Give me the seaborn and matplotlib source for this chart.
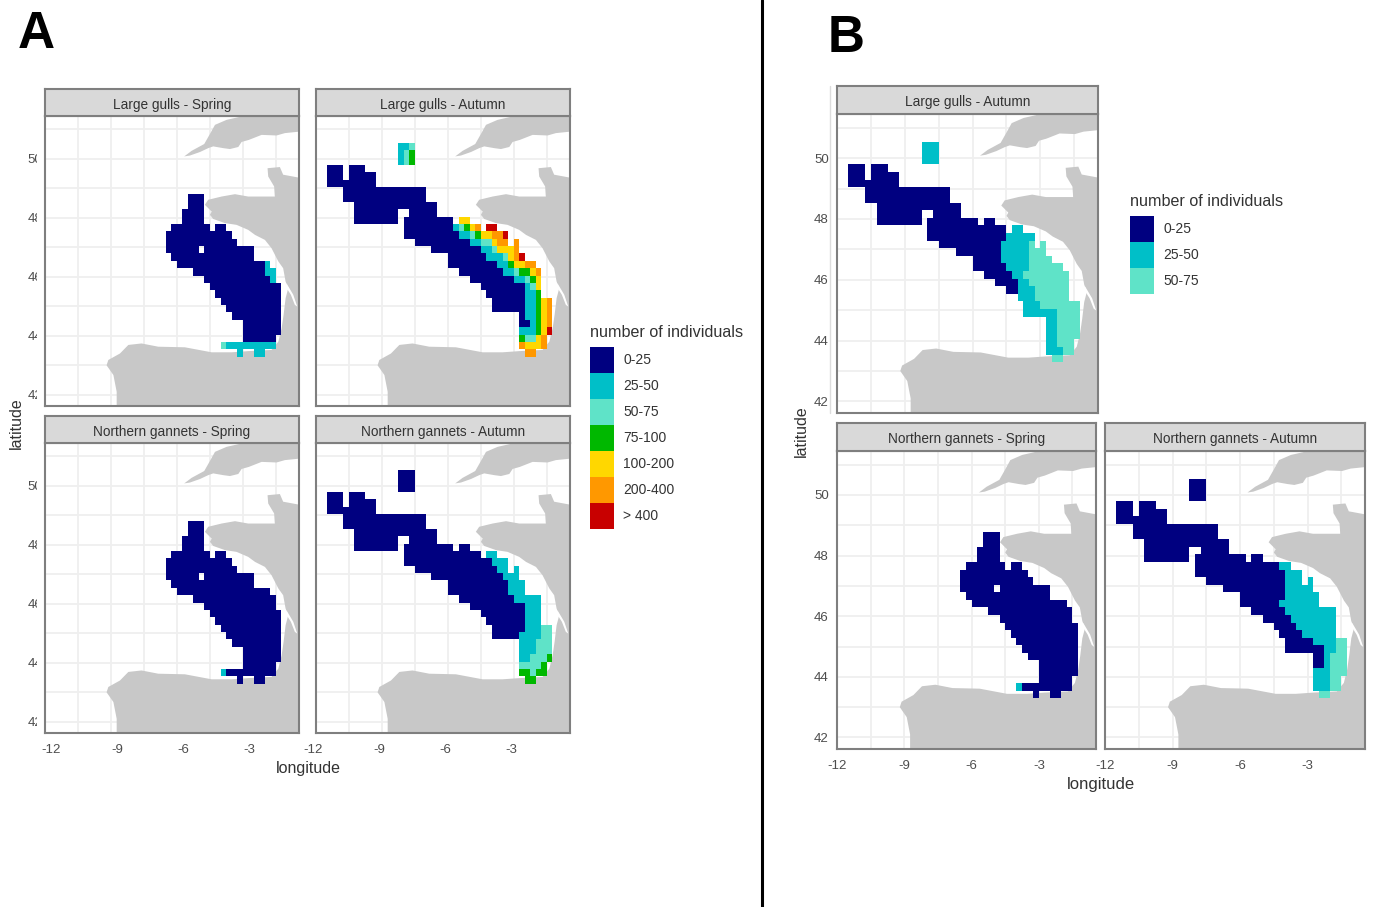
import numpy as np
import pandas as pd
import seaborn as sns
import matplotlib.pyplot as plt
from matplotlib.colors import ListedColormap
from matplotlib.patches import Patch, Polygon
from matplotlib.transforms import Bbox, ScaledTranslation

W, H = 1375, 907

# Classes used in the legend (1 = first label, 7 = last)
class_labels = ['0-25', '25-50', '50-75', '75-100', '100-200', '200-400', '> 400']
class_colors = ['#000080', '#00BFC8', '#5FE3C8', '#00B800', '#FFD700', '#FF9800', '#C80000']

# Survey cells: latitude row -> runs of (first column, last column, class)
# column 0 starts at 12 W, every column is 0.25 degree
gulls_spring_a = {
    48.5: [(26, 28, 1)], 48.25: [(26, 28, 1)], 48.0: [(25, 28, 1)], 47.75: [(25, 28, 1)],
    47.5: [(23, 29, 1), (31, 32, 1)], 47.25: [(22, 33, 1)], 47.0: [(22, 34, 1)],
    46.75: [(22, 27, 1), (29, 37, 1)], 46.5: [(23, 37, 1)],
    46.25: [(24, 39, 1), (40, 40, 2)], 46.0: [(27, 39, 1), (40, 41, 2)],
    45.75: [(29, 40, 1), (41, 41, 2)], 45.5: [(30, 42, 1)], 45.25: [(31, 42, 1)],
    45.0: [(32, 42, 1)], 44.75: [(33, 42, 1)], 44.5: [(34, 42, 1)], 44.25: [(36, 42, 1)],
    44.0: [(36, 42, 1)], 43.75: [(36, 41, 1)], 43.5: [(32, 32, 3), (33, 41, 2)],
    43.25: [(35, 35, 2), (38, 39, 2)],
}
gulls_autumn_a = {
    50.25: [(15, 16, 2), (17, 17, 3)], 50.0: [(15, 15, 2), (16, 16, 3), (17, 17, 4)],
    49.75: [(15, 15, 2), (16, 16, 3), (17, 17, 4)],
    49.5: [(2, 4, 1), (6, 8, 1)], 49.25: [(2, 4, 1), (6, 10, 1)], 49.0: [(2, 10, 1)],
    48.75: [(5, 19, 1)], 48.5: [(5, 19, 1)], 48.25: [(7, 21, 1)],
    48.0: [(7, 14, 1), (17, 21, 1)],
    47.75: [(7, 14, 1), (16, 24, 1), (26, 27, 5)],
    47.5: [(16, 24, 1), (25, 25, 2), (26, 26, 3), (27, 27, 4), (28, 28, 5), (29, 29, 6), (31, 32, 7)],
    47.25: [(16, 25, 1), (26, 27, 2), (28, 28, 3), (29, 29, 4), (30, 31, 5), (32, 33, 6), (34, 34, 7)],
    47.0: [(18, 27, 1), (28, 29, 2), (30, 31, 3), (32, 32, 5), (33, 34, 6), (36, 36, 6)],
    46.75: [(21, 29, 1), (30, 31, 2), (32, 32, 3), (33, 35, 5), (36, 36, 6)],
    46.5: [(24, 30, 1), (31, 33, 2), (34, 34, 3), (35, 35, 5), (36, 36, 6), (37, 37, 7)],
    46.25: [(24, 32, 1), (33, 34, 2), (35, 35, 4), (36, 37, 5), (38, 39, 6)],
    46.0: [(26, 33, 1), (34, 35, 2), (36, 36, 3), (37, 38, 4), (39, 39, 5), (40, 40, 6)],
    45.75: [(28, 35, 1), (36, 37, 2), (38, 38, 3), (39, 39, 4), (40, 40, 5)],
    45.5: [(30, 37, 1), (38, 38, 2), (39, 39, 3), (40, 40, 5)],
    45.25: [(31, 37, 1), (38, 39, 2), (40, 40, 4)],
    45.0: [(32, 37, 1), (38, 39, 2), (40, 40, 4), (41, 41, 5), (42, 42, 6)],
    44.75: [(32, 37, 1), (38, 39, 2), (40, 40, 4), (41, 41, 5), (42, 42, 6)],
    44.5: [(37, 37, 1), (38, 39, 2), (40, 40, 4), (41, 41, 5), (42, 42, 6)],
    44.25: [(37, 38, 1), (39, 39, 2), (40, 40, 4), (41, 41, 5), (42, 42, 6)],
    44.0: [(37, 39, 2), (40, 40, 4), (41, 41, 5), (42, 42, 7)],
    43.75: [(37, 37, 4), (38, 39, 3), (40, 40, 5), (41, 41, 6)],
    43.5: [(37, 37, 6), (38, 40, 5), (41, 41, 6)],
    43.25: [(38, 39, 6)],
}
gannets_spring = {
    48.5: [(26, 28, 1)], 48.25: [(26, 28, 1)], 48.0: [(25, 28, 1)], 47.75: [(25, 28, 1)],
    47.5: [(23, 29, 1), (31, 32, 1)], 47.25: [(22, 33, 1)], 47.0: [(22, 34, 1)],
    46.75: [(22, 27, 1), (29, 37, 1)], 46.5: [(23, 37, 1)], 46.25: [(24, 40, 1)],
    46.0: [(27, 41, 1)], 45.75: [(29, 41, 1)], 45.5: [(30, 42, 1)], 45.25: [(31, 42, 1)],
    45.0: [(32, 42, 1)], 44.75: [(33, 42, 1)], 44.5: [(34, 42, 1)], 44.25: [(36, 42, 1)],
    44.0: [(36, 42, 1)], 43.75: [(36, 41, 1)], 43.5: [(32, 32, 2), (33, 41, 1)],
    43.25: [(35, 35, 1), (38, 39, 1)],
}
gannets_autumn_a = {
    50.25: [(15, 17, 1)], 50.0: [(15, 17, 1)], 49.75: [(15, 17, 1)],
    49.5: [(2, 4, 1), (6, 8, 1)], 49.25: [(2, 4, 1), (6, 10, 1)], 49.0: [(2, 10, 1)],
    48.75: [(5, 19, 1)], 48.5: [(5, 19, 1)], 48.25: [(7, 21, 1)],
    48.0: [(7, 14, 1), (17, 21, 1)], 47.75: [(7, 14, 1), (16, 24, 1), (26, 27, 1)],
    47.5: [(16, 29, 1), (31, 32, 2)], 47.25: [(16, 31, 1), (32, 34, 2)],
    47.0: [(18, 32, 1), (33, 34, 2), (36, 36, 2)], 46.75: [(21, 33, 1), (34, 36, 2)],
    46.5: [(24, 34, 1), (35, 37, 2)], 46.25: [(24, 34, 1), (35, 37, 2)],
    46.0: [(26, 35, 1), (36, 40, 2)], 45.75: [(28, 37, 1), (38, 40, 2)],
    45.5: [(30, 37, 1), (38, 40, 2)], 45.25: [(31, 37, 1), (38, 40, 2)],
    45.0: [(32, 37, 1), (38, 40, 2), (41, 42, 3)], 44.75: [(32, 36, 1), (37, 40, 2), (41, 42, 3)],
    44.5: [(37, 39, 2), (40, 42, 3)], 44.25: [(37, 39, 2), (40, 42, 3)],
    44.0: [(37, 38, 2), (39, 41, 3), (42, 42, 4)], 43.75: [(37, 40, 3), (41, 41, 4)],
    43.5: [(37, 38, 4), (39, 39, 3), (40, 41, 4)], 43.25: [(38, 39, 4)],
}
gulls_autumn_b = {
    50.25: [(15, 17, 2)], 50.0: [(15, 17, 2)], 49.75: [(15, 17, 2)],
    49.5: [(2, 4, 1), (6, 8, 1)], 49.25: [(2, 4, 1), (6, 10, 1)], 49.0: [(2, 10, 1)],
    48.75: [(5, 19, 1)], 48.5: [(5, 19, 1)], 48.25: [(7, 21, 1)],
    48.0: [(7, 14, 1), (17, 21, 1)], 47.75: [(7, 14, 1), (16, 24, 1), (26, 27, 1)],
    47.5: [(16, 29, 1), (31, 32, 2)], 47.25: [(16, 29, 1), (30, 34, 2)],
    47.0: [(18, 28, 1), (29, 33, 2), (34, 34, 3), (36, 36, 3)],
    46.75: [(21, 28, 1), (29, 33, 2), (34, 36, 3)],
    46.5: [(24, 28, 1), (29, 33, 2), (34, 37, 3)],
    46.25: [(24, 29, 1), (30, 33, 2), (34, 39, 3)],
    46.0: [(26, 30, 1), (31, 32, 2), (33, 40, 3)],
    45.75: [(28, 31, 1), (32, 33, 2), (34, 40, 3)],
    45.5: [(30, 31, 1), (32, 34, 2), (35, 40, 3)],
    45.25: [(32, 34, 2), (35, 40, 3)], 45.0: [(33, 35, 2), (36, 42, 3)],
    44.75: [(33, 38, 2), (39, 42, 3)], 44.5: [(37, 38, 2), (39, 42, 3)],
    44.25: [(37, 38, 2), (39, 42, 3)], 44.0: [(37, 38, 2), (39, 42, 3)],
    43.75: [(37, 38, 2), (39, 41, 3)], 43.5: [(37, 39, 2), (40, 41, 3)],
    43.25: [(38, 39, 3)],
}
gannets_autumn_b = {
    50.25: [(15, 17, 1)], 50.0: [(15, 17, 1)], 49.75: [(15, 17, 1)],
    49.5: [(2, 4, 1), (6, 8, 1)], 49.25: [(2, 4, 1), (6, 10, 1)], 49.0: [(2, 10, 1)],
    48.75: [(5, 19, 1)], 48.5: [(5, 19, 1)], 48.25: [(7, 21, 1)],
    48.0: [(7, 14, 1), (17, 21, 1)], 47.75: [(7, 14, 1), (16, 24, 1), (26, 27, 1)],
    47.5: [(16, 30, 1), (31, 32, 2)], 47.25: [(16, 31, 1), (32, 34, 2)],
    47.0: [(18, 31, 1), (32, 34, 2), (36, 36, 2)], 46.75: [(21, 31, 1), (32, 36, 2)],
    46.5: [(24, 31, 1), (32, 37, 2)], 46.25: [(24, 30, 1), (31, 37, 2)],
    46.0: [(26, 31, 1), (32, 40, 2)], 45.75: [(28, 32, 1), (33, 40, 2)],
    45.5: [(30, 33, 1), (34, 40, 2)], 45.25: [(31, 34, 1), (35, 40, 2)],
    45.0: [(32, 36, 1), (37, 40, 2), (41, 42, 3)], 44.75: [(32, 38, 1), (39, 40, 2), (41, 42, 3)],
    44.5: [(37, 38, 1), (39, 39, 2), (40, 42, 3)], 44.25: [(37, 38, 1), (39, 39, 2), (40, 42, 3)],
    44.0: [(37, 39, 2), (40, 42, 3)], 43.75: [(37, 39, 2), (40, 41, 3)],
    43.5: [(37, 39, 2), (40, 41, 3)], 43.25: [(38, 39, 3)],
}

# Coastlines (longitude, latitude)
england = [(-5.67, 50.08), (-5.33, 50.27), (-4.76, 50.5), (-4.5, 50.84), (-4.27, 51.15),
           (-3.74, 51.32), (-2.91, 51.46), (-2.8, 51.7), (-0.3, 51.7), (-0.3, 50.93),
           (-1.09, 50.87), (-1.47, 50.79), (-2.15, 50.81), (-2.73, 50.64), (-3.06, 50.57),
           (-3.21, 50.4), (-3.59, 50.33), (-3.89, 50.36), (-4.35, 50.42), (-4.58, 50.36),
           (-4.95, 50.23), (-5.41, 50.11)]
france_spain = [(-1.88, 49.68), (-1.32, 49.72), (-1.17, 49.46), (-0.3, 49.34), (-0.3, 41.3),
                (-8.74, 41.3), (-8.74, 42.1), (-8.89, 42.67), (-9.2, 43.0), (-9.12, 43.18),
                (-8.59, 43.4), (-8.21, 43.69), (-7.61, 43.74), (-6.85, 43.63), (-5.64, 43.61),
                (-4.42, 43.44), (-3.52, 43.44), (-2.76, 43.48), (-1.7, 43.52), (-1.39, 43.8),
                (-1.24, 44.25), (-1.15, 44.71), (-1.06, 45.27), (-0.94, 45.61), (-1.06, 45.84),
                (-1.17, 46.29), (-1.39, 46.52), (-1.7, 46.97), (-2.0, 47.25), (-2.45, 47.42),
                (-2.76, 47.59), (-3.29, 47.76), (-3.82, 47.82), (-4.35, 47.96), (-4.5, 48.1),
                (-4.42, 48.21), (-4.73, 48.44), (-4.58, 48.61), (-3.97, 48.72), (-3.36, 48.8),
                (-2.76, 48.72), (-2.15, 48.72), (-1.55, 48.72), (-1.58, 49.06), (-1.85, 49.4)]
gironde = [(-1.02, 45.78), (-0.71, 45.39), (-0.53, 44.99), (-0.64, 45.05), (-0.82, 45.39), (-1.06, 45.67)]

lon_ticks = [-12, -9, -6, -3]
lat_ticks = [42, 44, 46, 48, 50]

lon_edges = np.arange(-12, -0.2, 0.25)
lat_edges = np.arange(43.29, 50.6, 0.25)

sns.set_theme(style='white')
plt.rcParams['font.family'] = ['Liberation Sans', 'DejaVu Sans']
cmap = ListedColormap(class_colors)
fig = plt.figure(figsize=(W / 100, H / 100), dpi=100)


def box(x0, y0, x1, y1):
    return [x0 / W, 1 - y1 / H, (x1 - x0) / W, (y1 - y0) / H]


def cells(rows):
    out = []
    for lat, runs in rows.items():
        for first, last, cls in runs:
            for col in range(first, last + 1):
                out.append((-12 + 0.25 * col + 0.125, lat + 0.04 + 0.125, cls))
    return pd.DataFrame(out, columns=['lon', 'lat', 'cls'])


def panel(rows, title, x0, y0, x1, y1, strip_top, xticks=True, yticks=None, label_dx=0):
    ax = fig.add_axes(box(x0, y0, x1, y1))
    ax.add_patch(Polygon(england, color='#C8C8C8', lw=0, zorder=1))
    ax.add_patch(Polygon(france_spain, color='#C8C8C8', lw=0, zorder=1))
    ax.add_patch(Polygon(gironde, color='white', lw=0, zorder=1.5))
    sns.histplot(data=cells(rows), x='lon', y='lat', weights='cls',
                 bins=[lon_edges, lat_edges], cmap=cmap, vmin=0.5, vmax=7.5,
                 ax=ax, zorder=3)
    ax.set_xlim(-12, -0.45)
    ax.set_ylim(41.62, 51.45)
    ax.set_xlabel('')
    ax.set_ylabel('')
    ax.set_xticks(np.arange(-12, -0.45, 1.5))
    ax.set_yticks(np.arange(42, 52, 1))
    ax.set_xticklabels([])
    ax.set_yticklabels([])
    ax.tick_params(length=0)
    ax.set_axisbelow(True)
    ax.grid(True, color='#EFEFEF', lw=1.3)
    for s in ax.spines.values():
        s.set_color('#7F7F7F')
        s.set_linewidth(1.5)
        s.set_zorder(5)

    # tick marks and labels go on a second layer so the grid stays on every line
    top = ax.figure.add_axes(ax.get_position(), facecolor='none')
    top.set_xlim(ax.get_xlim())
    top.set_ylim(ax.get_ylim())
    for s in top.spines.values():
        s.set_visible(False)
    top.set_xticks(lon_ticks if xticks else [])
    top.set_yticks(lat_ticks if yticks else [])
    if xticks:
        top.set_xticklabels([str(v) for v in lon_ticks], fontsize=9.5, color='#4D4D4D')
        top.tick_params(axis='x', length=3, width=1, color='#555555', pad=5)
        shift = ScaledTranslation(label_dx / 100, 0, fig.dpi_scale_trans)
        for lab in top.get_xticklabels():
            lab.set_transform(lab.get_transform() + shift)
    if yticks == 'clipped':
        top.set_yticklabels([str(v) for v in lat_ticks], fontsize=9.5, color='#4D4D4D')
        top.tick_params(axis='y', length=0, pad=1.7)
        clip = Bbox([[0, 0], [36.5, H]])
        for lab in top.get_yticklabels():
            lab.set_clip_box(clip)
            lab.set_clip_on(True)
    elif yticks:
        top.set_yticklabels([str(v) for v in lat_ticks], fontsize=9.5, color='#4D4D4D')
        top.tick_params(axis='y', length=3, width=1, color='#555555', pad=3)

    strip = fig.add_axes(box(x0, strip_top, x1, y0), facecolor='#D9D9D9')
    strip.set_xticks([])
    strip.set_yticks([])
    for s in strip.spines.values():
        s.set_color('#7F7F7F')
        s.set_linewidth(1.5)
    strip.text(0.5, 0.42, title, transform=strip.transAxes, ha='center', va='center',
               fontsize=9.8, color='#333333')
    return ax


# Part A
panel(gulls_spring_a, 'Large gulls - Spring', 45, 116, 299, 406, 89, xticks=False, yticks='clipped')
panel(gulls_autumn_a, 'Large gulls - Autumn', 316, 116, 570, 406, 89, xticks=False)
panel(gannets_spring, 'Northern gannets - Spring', 45, 443, 299, 733, 416, yticks='clipped', label_dx=6)
panel(gannets_autumn_a, 'Northern gannets - Autumn', 316, 443, 570, 733, 416, label_dx=-3)

# Part B
panel(gulls_autumn_b, 'Large gulls - Autumn', 837, 114, 1098, 413, 86, xticks=False, yticks=True)
panel(gannets_spring, 'Northern gannets - Spring', 837, 451, 1096, 749, 423, yticks=True)
panel(gannets_autumn_b, 'Northern gannets - Autumn', 1105, 451, 1365, 749, 423)


def legend(n, x, y):
    handles = [Patch(facecolor=class_colors[i], lw=0, label=class_labels[i]) for i in range(n)]
    leg = fig.legend(handles=handles, title='number of individuals', loc='upper left',
                     bbox_to_anchor=(x / W, 1 - y / H), frameon=False, fontsize=10,
                     title_fontproperties={'size': 11.6}, alignment='left', borderpad=0,
                     borderaxespad=0, labelspacing=0, handlelength=1.75, handleheight=2.5,
                     handletextpad=0.65)
    leg._legend_box.sep = 5
    for t in leg.get_texts():
        t.set_color('#333333')
    leg.get_title().set_color('#333333')


legend(7, 590, 325)
legend(3, 1130, 194)

fig.text(308 / W, 1 - 768 / H, 'longitude', ha='center', va='center', fontsize=11.5, color='#333333')
fig.text(16 / W, 1 - 423 / H, 'latitude', ha='center', va='center', rotation=90, fontsize=11.5, color='#333333')
fig.text(1101 / W, 1 - 784 / H, 'longitude', ha='center', va='center', fontsize=12, color='#333333')
fig.text(801 / W, 1 - 431 / H, 'latitude', ha='center', va='center', rotation=90, fontsize=11.5, color='#333333')

fig.text(36 / W, 1 - 35 / H, 'A', ha='center', va='center', fontsize=37, fontweight='bold', color='black')
fig.text(846 / W, 1 - 39 / H, 'B', ha='center', va='center', fontsize=37, fontweight='bold', color='black')

# Divider between the two parts and the faint line left of part B
fig.add_artist(plt.Line2D([762 / W, 762 / W], [0, 1], color='black', lw=2.2))
fig.add_artist(plt.Line2D([830 / W, 830 / W], [1 - 86 / H, 1 - 413 / H], color='#DDDDDD', lw=1))

fig.savefig('out.png', dpi=100)
